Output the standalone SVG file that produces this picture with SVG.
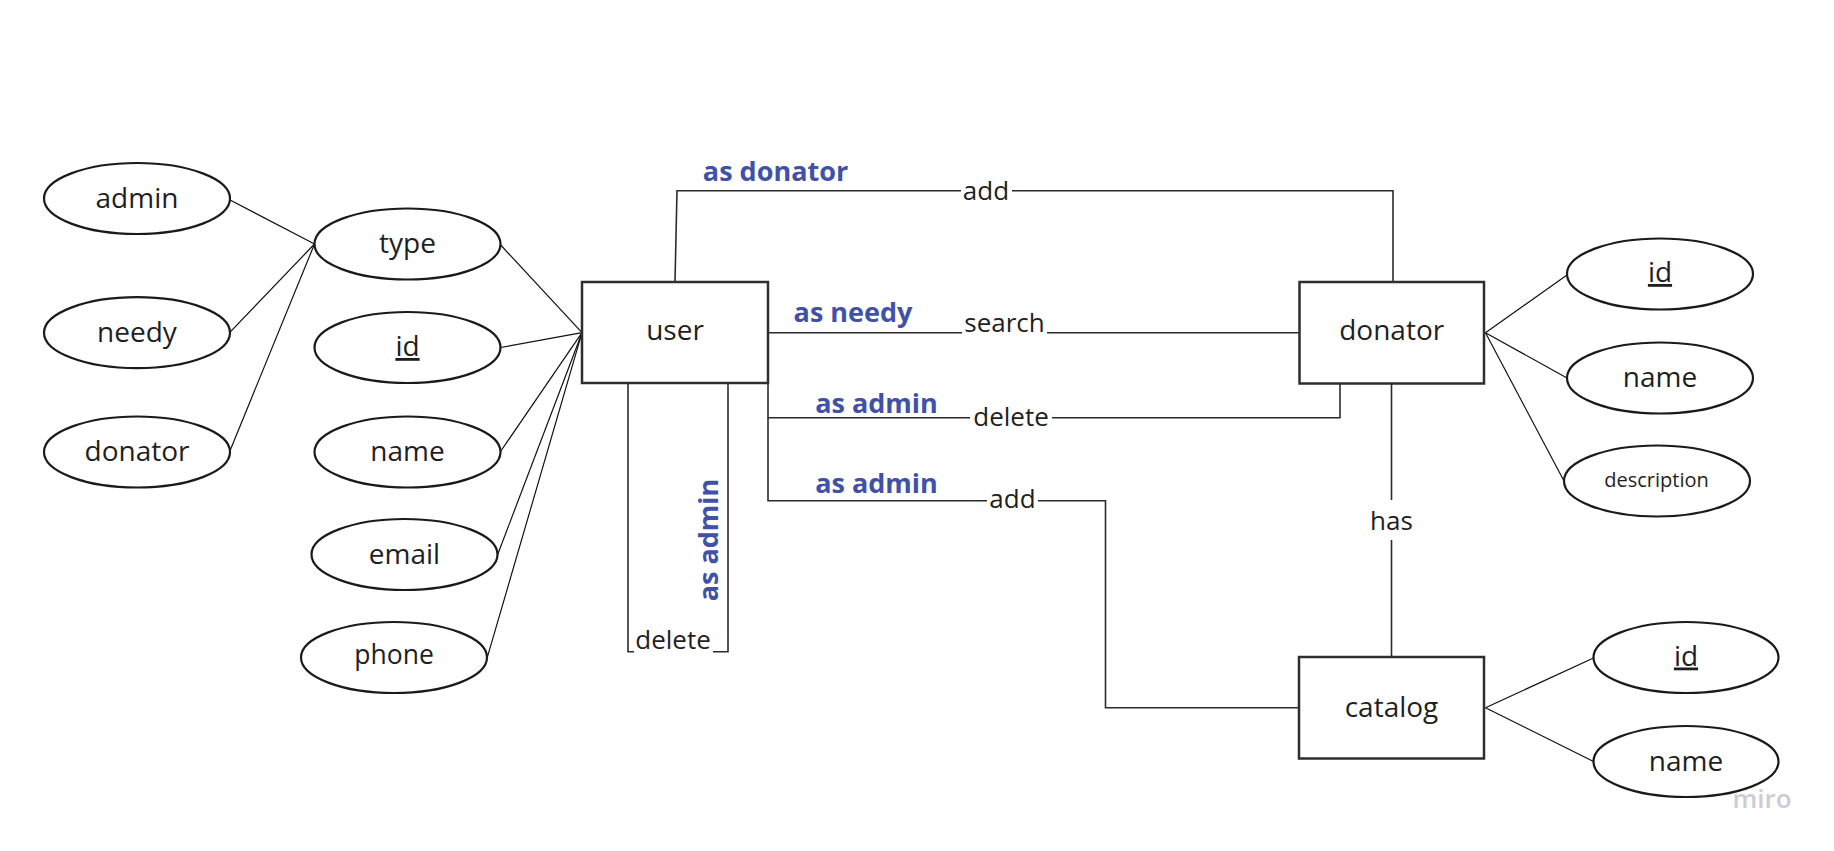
<svg xmlns="http://www.w3.org/2000/svg" width="1834" height="851" viewBox="0 0 1834 851">
<style>
.bg{fill:#ffffff}
.ent{fill:#ffffff;stroke:#2e2e2e;stroke-width:2.5}
.att{fill:#ffffff;stroke:#1a1a1a;stroke-width:2.2}
.t{font-family:"Open Sans","Noto Sans","Liberation Sans",sans-serif;font-size:28px;fill:#1f1f1f;text-anchor:middle}
.lbl{font-family:"Open Sans","Noto Sans","Liberation Sans",sans-serif;font-size:26px;fill:#1f1f1f;text-anchor:middle}
.role{font-family:"Open Sans","Noto Sans","Liberation Sans",sans-serif;font-size:27px;font-weight:700;fill:#4151a7;text-anchor:middle}
.u{text-decoration:underline}
.al{stroke:#111111;stroke-width:1.2;fill:none}
.rl{stroke:#2b2b2b;stroke-width:1.6;fill:none}
.miro{font-family:"Open Sans","Noto Sans","Liberation Sans",sans-serif;font-size:26px;font-weight:600;fill:#cbccd4;text-anchor:middle}
</style>
<rect class="bg" x="0" y="0" width="1834" height="851"/>

<g id="connectors">
  <!-- attribute links: user side -->
  <line class="al" x1="230" y1="200" x2="314.5" y2="244"/>
  <line class="al" x1="229.6" y1="332.7" x2="314.5" y2="244"/>
  <line class="al" x1="229.6" y1="451.7" x2="314.5" y2="244"/>
  <line class="al" x1="500.7" y1="245" x2="582" y2="332.7"/>
  <line class="al" x1="500.5" y1="347.5" x2="582" y2="332.7"/>
  <line class="al" x1="500.5" y1="451.5" x2="582" y2="332.7"/>
  <line class="al" x1="497.5" y1="555" x2="582" y2="332.7"/>
  <line class="al" x1="487.5" y1="656.7" x2="582" y2="332.7"/>
  <!-- attribute links: donator -->
  <line class="al" x1="1485.5" y1="332.7" x2="1567" y2="275"/>
  <line class="al" x1="1485.5" y1="332.7" x2="1567" y2="378"/>
  <line class="al" x1="1485.5" y1="332.7" x2="1564" y2="481"/>
  <!-- attribute links: catalog -->
  <line class="al" x1="1485.5" y1="707.7" x2="1593.5" y2="658"/>
  <line class="al" x1="1485.5" y1="707.7" x2="1593.5" y2="761.5"/>

  <!-- user - donator : add (as donator) -->
  <path class="rl" d="M675,282 L677,190.7 L961,190.7 M1012,190.7 L1393,190.7 L1393,282"/>
  <text class="lbl" x="986" y="199.5">add</text>
  <text class="role" x="775.5" y="180.7">as donator</text>

  <!-- user - donator : search (as needy) -->
  <path class="rl" d="M768,332.7 L962,332.7 M1047,332.7 L1299,332.7"/>
  <text class="lbl" x="1004.5" y="332">search</text>
  <text class="role" x="853" y="321.7">as needy</text>

  <!-- user - donator : delete (as admin) -->
  <path class="rl" d="M768,383 L768,417.7 L970,417.7 M1052,417.7 L1340,417.7 L1340,384"/>
  <text class="lbl" x="1011" y="426">delete</text>
  <text class="role" x="876.5" y="413.3">as admin</text>

  <!-- user - catalog : add (as admin) -->
  <path class="rl" d="M768,417.7 L768,500.7 L987,500.7 M1038,500.7 L1105.5,500.7 L1105.5,707.7 L1299,707.7"/>
  <text class="lbl" x="1012.5" y="508">add</text>
  <text class="role" x="876.5" y="493.3">as admin</text>

  <!-- donator - catalog : has -->
  <path class="rl" d="M1391.5,384 L1391.5,500 M1391.5,540 L1391.5,657"/>
  <text class="lbl" x="1391.5" y="530">has</text>

  <!-- user self : delete (as admin) -->
  <path class="rl" d="M628,383 L628,651.7 L634,651.7 M713,651.7 L728,651.7 L728,383"/>
  <text class="lbl" x="673" y="649">delete</text>
  <text class="role" transform="translate(718.3,540) rotate(-90)" x="0" y="0">as admin</text>
</g>

<g id="user">
  <rect class="ent" x="582" y="282" width="186" height="101"/>
  <text class="t" x="675" y="339.5">user</text>
</g>
<g id="donator">
  <rect class="ent" x="1299.5" y="282" width="184.5" height="101.5"/>
  <text class="t" x="1391.7" y="340">donator</text>
</g>
<g id="catalog">
  <rect class="ent" x="1299" y="657" width="185" height="101.5"/>
  <text class="t" x="1391.5" y="717">catalog</text>
</g>

<g id="attr-admin">
  <ellipse class="att" cx="137" cy="198.5" rx="93" ry="35.5"/>
  <text class="t" x="137" y="207.5">admin</text>
</g>
<g id="attr-needy">
  <ellipse class="att" cx="137" cy="332.7" rx="93" ry="35.5"/>
  <text class="t" x="137" y="341.5">needy</text>
</g>
<g id="attr-donator">
  <ellipse class="att" cx="137" cy="452" rx="93" ry="35.5"/>
  <text class="t" x="137" y="461">donator</text>
</g>
<g id="attr-type">
  <ellipse class="att" cx="407.5" cy="244" rx="93" ry="35.5"/>
  <text class="t" x="407.5" y="253">type</text>
</g>
<g id="attr-user-id">
  <ellipse class="att" cx="407.5" cy="347.5" rx="93" ry="35.5"/>
  <text class="t u" x="407.5" y="356">id</text>
</g>
<g id="attr-user-name">
  <ellipse class="att" cx="407.5" cy="452" rx="93" ry="35.5"/>
  <text class="t" x="407.5" y="461">name</text>
</g>
<g id="attr-email">
  <ellipse class="att" cx="404.5" cy="554.5" rx="93" ry="35.5"/>
  <text class="t" x="404.5" y="563.5">email</text>
</g>
<g id="attr-phone">
  <ellipse class="att" cx="394" cy="657.5" rx="93" ry="35.5"/>
  <text class="t" style="font-size:26.5px" x="394" y="664">phone</text>
</g>

<g id="attr-donator-id">
  <ellipse class="att" cx="1660" cy="274" rx="93" ry="35.5"/>
  <text class="t u" x="1660" y="282">id</text>
</g>
<g id="attr-donator-name">
  <ellipse class="att" cx="1660" cy="378" rx="93" ry="35.5"/>
  <text class="t" x="1660" y="387">name</text>
</g>
<g id="attr-description">
  <ellipse class="att" cx="1657" cy="481" rx="93" ry="35.5"/>
  <text class="t" style="font-size:20px" x="1656.5" y="487">description</text>
</g>

<g id="attr-catalog-id">
  <ellipse class="att" cx="1686" cy="657.5" rx="92.5" ry="35.5"/>
  <text class="t u" x="1686" y="665.5">id</text>
</g>
<g id="attr-catalog-name">
  <ellipse class="att" cx="1686" cy="761.5" rx="92.5" ry="35.5"/>
  <text class="t" x="1686" y="770.5">name</text>
</g>

<text class="miro" x="1762" y="808">miro</text>
</svg>
